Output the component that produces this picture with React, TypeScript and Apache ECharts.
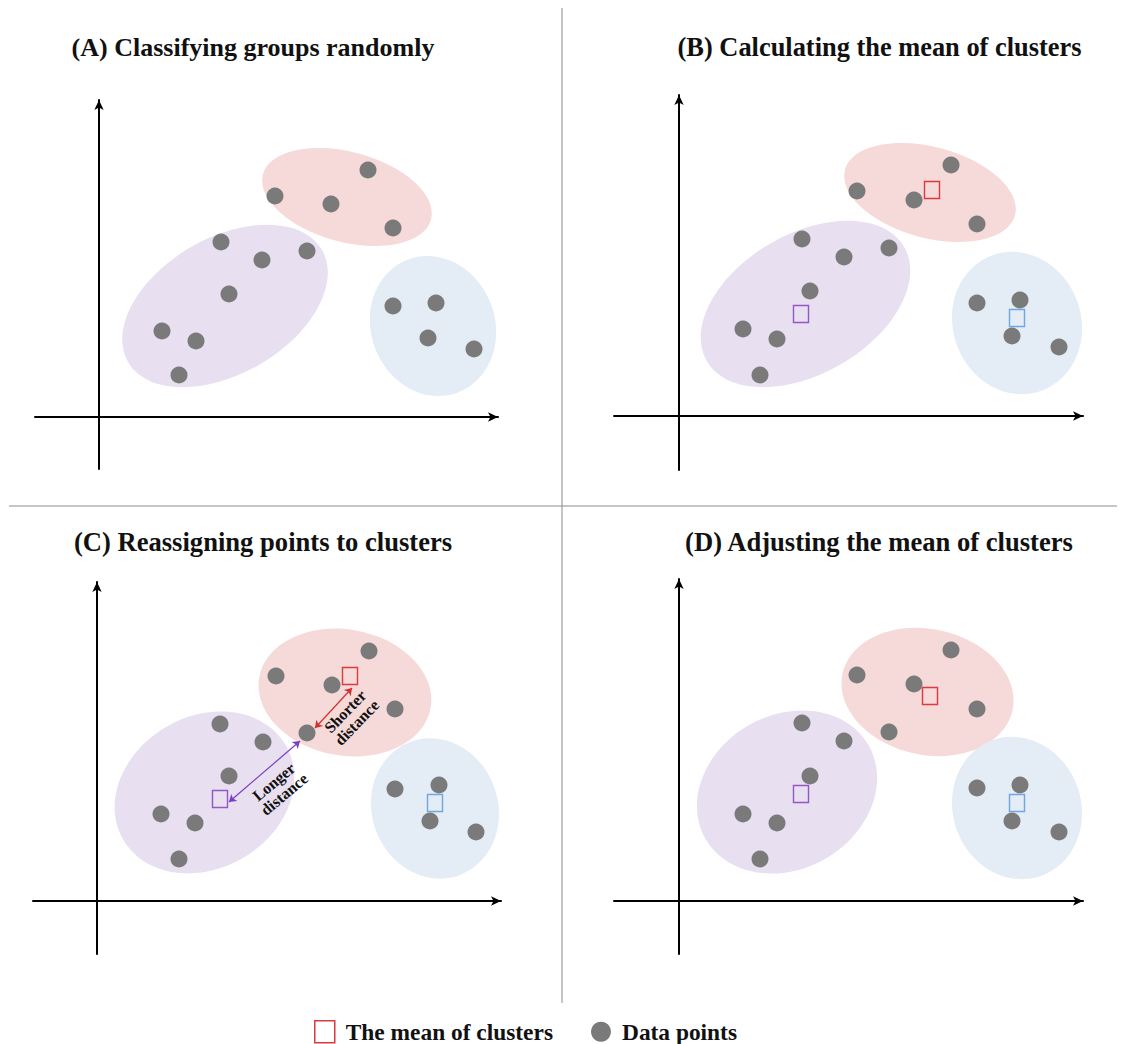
import React, { useEffect, useRef } from "react";
import * as echarts from "echarts";

// ---------- Data (coordinates relative to each panel's axis origin, y up) ----------
const panelTitles = [
  "(A) Classifying groups randomly",
  "(B) Calculating the mean of clusters",
  "(C) Reassigning points to clusters",
  "(D) Adjusting the mean of clusters",
];

// data points per panel
const pointsA = [
  [122, 175], [163, 157], [208, 166], [130, 123], [63, 86], [97, 76], [80, 42],
  [176, 221], [232, 213], [269, 247], [294, 189],
  [294, 111], [337, 114], [329, 79], [375, 68],
];
const pointsB = [
  [123, 177], [165, 159], [210, 168], [131, 125], [64, 87], [98, 77], [81, 41],
  [178, 225], [235, 216], [272, 251], [298, 192],
  [298, 113], [341, 116], [333, 80], [380, 69],
];
const pointsC = [
  [123, 177], [166, 159], [132, 125], [64, 87], [98, 78], [82, 42],
  [179, 225], [235, 216], [272, 250], [298, 192], [210, 168],
  [298, 112], [342, 116], [333, 80], [379, 69],
];
const pointsD = [
  [123, 178], [165, 160], [131, 125], [64, 87], [98, 78], [81, 42],
  [178, 226], [235, 217], [272, 251], [298, 192], [210, 169],
  [298, 113], [341, 116], [333, 80], [380, 69],
];

// cluster means (order: purple, red, blue)
const meansB = [[122, 102], [253, 226], [338, 98]];
const meansC = [[123, 102], [253, 225], [338, 98]];
const meansD = [[122, 107], [251, 205], [338, 98]];

// cluster ellipses: [cx, cy, semiAxisX, semiAxisY, rotationDeg, clusterIndex]
const ellipsesA = [[126, 111, 112, 68, 30, 0], [248, 220, 87, 45, -15, 1], [334, 91, 62, 71, 20, 2]];
const ellipsesB = [[126.5, 112, 114, 70, 30, 0], [251, 223.5, 88, 45.5, -15, 1], [338, 93, 64, 72, 20, 2]];
const ellipsesC = [[107.5, 108.5, 94, 76, 30, 0], [248, 208.5, 87, 63, -10, 1], [338, 92.5, 63, 71, 20, 2]];
const ellipsesD = [[108, 109, 94, 77, 30, 0], [248.5, 209, 87, 63, -12, 1], [338, 93, 64, 72, 20, 2]];

// distance arrows in panel C (purple: longer, red: shorter)
const distanceArrows = [
  [[132, 99], [203, 160]],
  [[218, 173], [255, 213]],
];
// distance labels in panel C: [x, y, rotationDeg]
const distanceLabelPos = [[182, 113, 40], [254, 184, 46]];
const distanceLabels = ["Longer\ndistance", "Shorter\ndistance"];

const legendNames = ["The mean of clusters", "Data points"];

// ---------- Styles / layout ----------
const clusterFills = ["#e8dff0", "#f5dad9", "#e4ecf6"];
const meanColors = ["#9358c8", "#dc3a3c", "#6ea8de"];
const arrowColors = ["#7b3fc4", "#d2302f"];
const pointColor = "#7a7a7a";
const serif = '"Liberation Serif", "Times New Roman", serif';

const grids = [
  { left: 35, top: 100, width: 463, height: 369 },
  { left: 614, top: 95, width: 469, height: 375 },
  { left: 33, top: 582, width: 468, height: 372 },
  { left: 614, top: 579, width: 469, height: 375 },
];
const xRanges = [[-64, 399], [-65, 404], [-64, 404], [-65, 404]];
const yRanges = [[-52, 317], [-54, 321], [-53, 319], [-53, 322]];
const titleCenters = [253, 879.5, 263, 879];
const titleSizes = [26, 26.4, 26.6, 26.6];
const titleTops = [34, 34, 528, 528];

export default function App() {
  const ref = useRef<HTMLDivElement>(null);

  useEffect(() => {
    document.body.style.margin = "0";
    if (!ref.current) return;
    const chart = echarts.init(ref.current, undefined, { renderer: "svg" });

    const pointsAll = [pointsA, pointsB, pointsC, pointsD];
    const meansAll = [null, meansB, meansC, meansD];
    const ellipsesAll = [ellipsesA, ellipsesB, ellipsesC, ellipsesD];

    const axisLine = {
      onZero: true,
      symbol: ["none", "arrow"],
      symbolSize: [7, 10],
      lineStyle: { color: "#000", width: 2 },
    };

    const xAxis = grids.map((_, i) => ({
      type: "value",
      gridIndex: i,
      min: xRanges[i][0],
      max: xRanges[i][1],
      axisLine,
      axisTick: { show: false },
      axisLabel: { show: false },
      splitLine: { show: false },
    }));
    const yAxis = grids.map((_, i) => ({
      type: "value",
      gridIndex: i,
      min: yRanges[i][0],
      max: yRanges[i][1],
      axisLine,
      axisTick: { show: false },
      axisLabel: { show: false },
      splitLine: { show: false },
    }));

    const series: any[] = [];
    for (let i = 0; i < 4; i++) {
      series.push({
        type: "custom",
        xAxisIndex: i,
        yAxisIndex: i,
        silent: true,
        z: 1,
        data: ellipsesAll[i],
        renderItem: (params: any, api: any) => {
          const c = api.coord([api.value(0), api.value(1)]);
          const s = api.size([api.value(2), api.value(3)]);
          return {
            type: "ellipse",
            x: c[0],
            y: c[1],
            rotation: (api.value(4) * Math.PI) / 180,
            shape: { cx: 0, cy: 0, rx: s[0], ry: s[1] },
            style: { fill: clusterFills[api.value(5)] },
          };
        },
      });
      series.push({
        type: "scatter",
        name: legendNames[1],
        xAxisIndex: i,
        yAxisIndex: i,
        symbol: "circle",
        symbolSize: 17,
        z: 3,
        itemStyle: { color: pointColor, opacity: 1 },
        data: pointsAll[i],
      });
      const m = meansAll[i];
      if (m) {
        series.push({
          type: "scatter",
          name: legendNames[0],
          xAxisIndex: i,
          yAxisIndex: i,
          symbol: "rect",
          symbolSize: [15, 17],
          z: 4,
          itemStyle: { color: "rgba(0,0,0,0)", borderWidth: 1.5, opacity: 1 },
          data: m.map((p, j) => ({
            value: p,
            itemStyle: { color: "rgba(0,0,0,0)", borderColor: meanColors[j], borderWidth: 1.5 },
          })),
        });
      }
    }

    series.push({
      type: "lines",
      coordinateSystem: "cartesian2d",
      xAxisIndex: 2,
      yAxisIndex: 2,
      symbol: ["arrow", "arrow"],
      symbolSize: 7,
      z: 5,
      silent: true,
      lineStyle: { width: 1.2, opacity: 1 },
      data: distanceArrows.map((c, j) => ({
        coords: c,
        lineStyle: { color: arrowColors[j], width: 1.2, opacity: 1 },
      })),
    });

    series.push({
      type: "custom",
      xAxisIndex: 2,
      yAxisIndex: 2,
      silent: true,
      z: 6,
      data: distanceLabelPos,
      renderItem: (params: any, api: any) => {
        const c = api.coord([api.value(0), api.value(1)]);
        return {
          type: "text",
          x: c[0],
          y: c[1],
          rotation: (api.value(2) * Math.PI) / 180,
          style: {
            text: distanceLabels[params.dataIndex],
            fill: "#111",
            fontFamily: serif,
            fontWeight: "bold",
            fontSize: 16,
            lineHeight: 16,
            align: "center",
            verticalAlign: "middle",
          },
        };
      },
    });

    const option: any = {
      animation: false,
      backgroundColor: "#fff",
      title: panelTitles.map((t, i) => ({
        text: t,
        left: titleCenters[i],
        top: titleTops[i],
        textAlign: "center",
        padding: 0,
        textStyle: { fontFamily: serif, fontWeight: "bold", fontSize: titleSizes[i], color: "#111" },
      })),
      grid: grids.map((g) => ({ ...g, containLabel: false })),
      xAxis,
      yAxis,
      legend: {
        left: 314,
        top: 1020,
        padding: 0,
        itemWidth: 20,
        itemHeight: 22,
        itemGap: 38,
        selectedMode: false,
        textStyle: { fontFamily: serif, fontWeight: "bold", fontSize: 23.4, color: "#111", padding: [0, 0, 0, 6] },
        data: [
          {
            name: legendNames[0],
            icon: "rect",
            itemStyle: { color: "rgba(0,0,0,0)", borderColor: meanColors[1], borderWidth: 1.5 },
          },
          { name: legendNames[1], icon: "circle", itemStyle: { color: pointColor } },
        ],
      },
      graphic: [
        { type: "line", shape: { x1: 562, y1: 8, x2: 562, y2: 1003 }, style: { stroke: "#8c8c8c", lineWidth: 1 } },
        { type: "line", shape: { x1: 9, y1: 506, x2: 1117, y2: 506 }, style: { stroke: "#8c8c8c", lineWidth: 1 } },
      ],
      series,
    };

    chart.setOption(option);
    return () => chart.dispose();
  }, []);

  return <div ref={ref} style={{ width: 1125, height: 1044 }} />;
}
